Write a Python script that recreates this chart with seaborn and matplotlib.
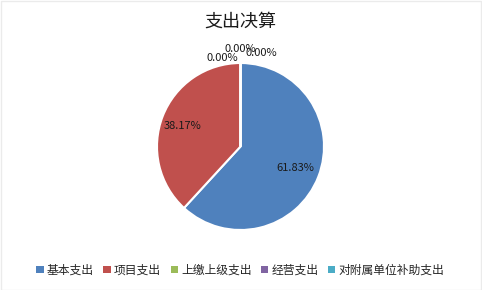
import matplotlib
matplotlib.use("Agg")
import matplotlib.pyplot as plt
import seaborn as sns
from matplotlib.patches import Rectangle, Patch

categories = ["基本支出", "项目支出", "上缴上级支出", "经营支出", "对附属单位补助支出"]
values = [61.83, 38.17, 0.0, 0.0, 0.0]
colors = ["#4F81BD", "#C0504D", "#9BBB59", "#8064A2", "#4BACC6"]
title = "支出决算"

sns.set_theme(style="white")
plt.rcParams["font.family"] = ["Noto Sans CJK SC", "DejaVu Sans"]

W, H = 482, 290
fig = plt.figure(figsize=(W / 100, H / 100), dpi=100)
fig.patch.set_facecolor("white")

cx, cy, r = 240.5, 146.5, 83.5
lim = 1.2
size = 2 * lim * r
ax = fig.add_axes([(cx - size / 2) / W, (H - cy - size / 2) / H, size / W, size / H])

wedges, texts, autotexts = ax.pie(
    values, colors=colors, startangle=90, counterclock=False,
    autopct="%.2f%%", pctdistance=0.7,
    wedgeprops=dict(edgecolor="white", linewidth=1.5),
    textprops=dict(fontsize=8, color="#1a1a1a"),
)
ax.set_xlim(-lim, lim)
ax.set_ylim(-lim, lim)
ax.set_aspect("equal")
ax.axis("off")

autotexts[1].set_position((-0.7, 0.25))
zero_pos = [(-0.22, 1.06), (0.0, 1.17), (0.25, 1.12)]
for t, p in zip(autotexts[2:], zero_pos):
    t.set_position(p)
    t.set_ha("center")
    t.set_va("center")

fig.text(cx / W, 1 - 22 / H, title, ha="center", va="center", fontsize=13, color="#1a1a1a")

handles = [Patch(facecolor=c, edgecolor="none") for c in colors]
fig.legend(handles, categories, loc="center", bbox_to_anchor=(240.5 / W, 20 / H),
           ncol=5, frameon=False, fontsize=8.5, handlelength=0.6, handleheight=0.6,
           handletextpad=0.3, columnspacing=0.8, borderpad=0)

fig.add_artist(Rectangle((0.5 / W, 0.5 / H), 1 - 1.5 / W, 1 - 1.5 / H, transform=fig.transFigure,
                         fill=False, edgecolor="#EBEBEB", linewidth=1))

fig.savefig("out.png", dpi=100, facecolor="white")
